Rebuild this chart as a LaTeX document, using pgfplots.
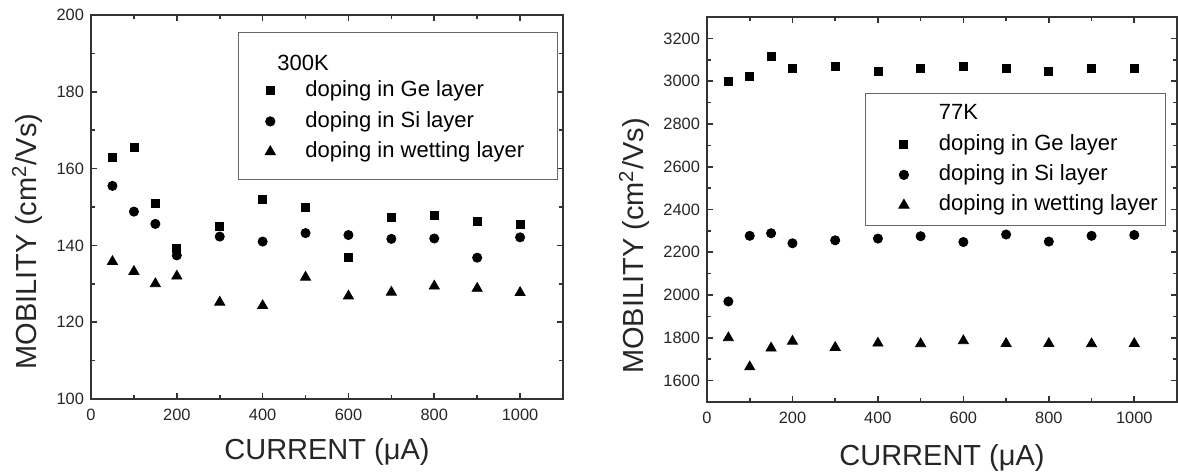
\documentclass[border=0pt]{standalone}
\usepackage{pgfplots}
\pgfplotsset{compat=1.18}
\usepackage{fontspec}
\setmainfont{Liberation Sans}

\pgfplotsset{
  mob/.style={
    scale only axis,
    xmin=0, xmax=1100,
    xtick={0,200,...,1000},
    minor x tick num=1,
    minor y tick num=1,
    tick align=inside,
    xtick pos=both, ytick pos=both,
    major tick length=3pt,
    minor tick length=1.8pt,
    axis line style={line width=0.9pt, black!80},
    every tick/.style={line width=0.8pt, black!80},
    tick label style={font=\fontsize{8.2}{9}\selectfont, text=black!85},
    xticklabel style={yshift=-1.5pt},
    /pgf/number format/assume math mode=true,
    /pgf/number format/1000 sep={},
    xlabel={CURRENT (μA)},
    ylabel={MOBILITY (cm\textsuperscript{2}/Vs)},
    label style={font=\fontsize{14.5}{16}\selectfont, text=black!85},
    legend cell align=left,
    legend style={font=\fontsize{11}{13}\selectfont, draw=black!60, line width=0.5pt,
      row sep=0pt,
      nodes={text height=8pt, text depth=2.3pt, inner ysep=2.45pt}},
    legend image code/.code={\draw[mark repeat=2,mark phase=2] plot coordinates {(0pt,0pt) (8pt,0pt) (16pt,0pt)};},
    every axis legend/.append style={/tikz/every odd column/.append style={column sep=13pt}},
  },
  ge/.style={only marks, mark=square*, mark size=2pt, black},
  si/.style={only marks, mark=*, mark size=2.3pt, black},
  wl/.style={only marks, mark=triangle*, mark size=2.9pt, black},
}

\begin{document}
\begin{tikzpicture}
\path[use as bounding box] (0,0) rectangle (589pt,236pt);

% 300 K
\begin{axis}[mob,
  at={(45.5pt,36.5pt)}, anchor=south west,
  width=236pt, height=192pt,
  ymin=100, ymax=200, ytick={100,120,...,200},
  ylabel style={at={(axis description cs:-0.135,0.41)}, anchor=center},
  xlabel style={at={(axis description cs:0.5,-0.085)}, anchor=north},
  legend style={at={(0.311,0.956)}, anchor=north west, inner ysep=6.5pt, inner xsep=8pt},
]
\addlegendimage{empty legend}
\addlegendentry{\hspace*{-14pt}\raisebox{-2pt}{300K}}
\addplot[ge] coordinates {(50,163.0) (100,165.5) (150,151.0) (200,139.3) (300,145.0) (400,152.0) (500,150.0) (600,136.9) (700,147.4) (800,147.7) (900,146.2) (1000,145.4)};
\addlegendentry{doping in Ge layer}
\addplot[si] coordinates {(50,155.5) (100,148.8) (150,145.6) (200,137.4) (300,142.3) (400,141.0) (500,143.2) (600,142.7) (700,141.7) (800,141.8) (900,136.8) (1000,142.1)};
\addlegendentry{doping in Si layer}
\addplot[wl] coordinates {(50,135.8) (100,133.2) (150,130.0) (200,132.0) (300,125.2) (400,124.3) (500,131.7) (600,126.8) (700,127.8) (800,129.4) (900,128.8) (1000,127.7)};
\addlegendentry{doping in wetting layer\hspace*{6.5pt}}
\end{axis}

% 77 K
\begin{axis}[mob,
  at={(353.5pt,35pt)}, anchor=south west,
  width=235pt, height=192.5pt,
  ymin=1500, ymax=3300, ytick={1600,1800,...,3200},
  ylabel style={at={(axis description cs:-0.155,0.405)}, anchor=center},
  xlabel style={at={(axis description cs:0.5,-0.092)}, anchor=north},
  legend style={at={(0.336,0.803)}, anchor=north west, inner ysep=2.75pt, inner xsep=2pt},
  legend image code/.code={\path (-9pt,0pt); \draw[mark repeat=2,mark phase=2] plot coordinates {(0pt,0pt) (8pt,0pt) (16pt,0pt)};},
]
\addlegendimage{empty legend}
\addlegendentry{77K}
\addplot[ge] coordinates {(50,3000) (100,3020) (150,3118) (200,3058) (300,3068) (400,3048) (500,3058) (600,3068) (700,3058) (800,3048) (900,3058) (1000,3058)};
\addlegendentry{doping in Ge layer}
\addplot[si] coordinates {(50,1970) (100,2277) (150,2289) (200,2242) (300,2256) (400,2264) (500,2275) (600,2248) (700,2283) (800,2250) (900,2277) (1000,2281)};
\addlegendentry{doping in Si layer}
\addplot[wl] coordinates {(50,1800) (100,1664) (150,1752) (200,1784) (300,1755) (400,1775) (500,1772) (600,1786) (700,1773) (800,1773) (900,1772) (1000,1773)};
\addlegendentry{doping in wetting layer}
\end{axis}
\end{tikzpicture}
\end{document}
